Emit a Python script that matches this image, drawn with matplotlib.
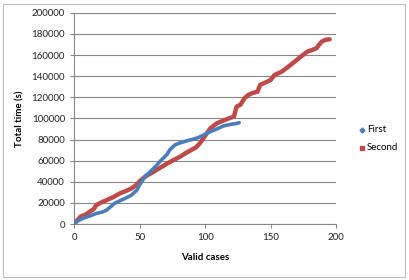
import matplotlib
matplotlib.use("Agg")
import matplotlib.pyplot as plt
from matplotlib.patches import Rectangle

plt.rcParams['font.family'] = ['Lato', 'DejaVu Sans']

# First series
first_x = [0, 3, 7, 12, 17, 22, 25, 28, 31, 35, 39, 44, 48, 50, 54, 58, 62,
           65, 68, 71, 73, 77, 80, 84, 88, 91, 95, 99, 103, 108, 114, 120, 124, 126]
first_y = [0, 3000, 5500, 7500, 10000, 11500, 13300, 16500, 19600, 22000, 24300,
           27500, 32200, 37000, 44800, 49500, 54300, 58500, 62300, 66000, 70200,
           74900, 76500, 78000, 79500, 80300, 82000, 84400, 87000, 89500, 92900,
           94500, 95200, 96000]

# Second series
second_x = [0, 2, 5, 9, 12, 15, 17, 21, 25, 30, 35, 40, 44, 48, 50, 55, 60, 65,
            70, 75, 81, 85, 90, 93, 96, 100, 104, 109, 115, 119, 122, 124, 127,
            130, 133, 136, 140, 142, 146, 150, 153, 158, 162, 166, 170, 174, 178,
            182, 185, 187, 189, 192, 195]
second_y = [0, 3000, 7000, 9000, 11700, 14000, 18000, 20500, 22700, 25500, 29000,
            31500, 33800, 37500, 40500, 45500, 49000, 52800, 56500, 60000, 63800,
            67000, 70500, 72500, 76500, 83500, 90700, 95400, 98500, 100500, 101700,
            111200, 113000, 119100, 122300, 124000, 125400, 131800, 134000, 136500,
            141200, 144000, 147600, 151500, 155500, 159500, 163300, 165000, 166500,
            170000, 172800, 174500, 175000]

x_ticks = [0, 50, 100, 150, 200]
y_ticks = list(range(0, 200001, 20000))

fig = plt.figure(figsize=(4.09, 2.80), dpi=100)
ax = fig.add_axes([0.181, 0.2, 0.641, 0.754])

blue = '#4A7EBB'
red = '#BE4B48'
grid_c = '#868686'

ax.plot(first_x, first_y, color=blue, lw=2.6, solid_capstyle='round', zorder=3)
ax.plot(second_x, second_y, color=red, lw=3.2, solid_capstyle='round', zorder=2)

ax.set_xlim(0, 200)
ax.set_ylim(0, 200000)
ax.set_xticks(x_ticks)
ax.set_yticks(y_ticks)
ax.yaxis.grid(True, color=grid_c, lw=0.8)
ax.set_axisbelow(True)
for s in ['top', 'right']:
    ax.spines[s].set_visible(False)
for s in ['left', 'bottom']:
    ax.spines[s].set_color(grid_c)
    ax.spines[s].set_linewidth(0.8)
ax.tick_params(colors=grid_c, labelcolor='#222222', labelsize=7, length=3, width=0.8)

ax.set_xlabel('Valid cases', fontsize=7, fontweight='bold', labelpad=8)
ax.set_ylabel('Total time (s)', fontsize=7, fontweight='bold', labelpad=5)

# legend
fig.lines.append(plt.Line2D([362 / 409], [1 - 130 / 280], marker='D', ms=2.5,
                            color=blue, ls='none', transform=fig.transFigure))
fig.lines.append(plt.Line2D([362 / 409], [1 - 148 / 280], marker='s', ms=3,
                            color=red, ls='none', transform=fig.transFigure))
fig.text(367 / 409, 1 - 130 / 280, 'First', fontsize=7, va='center')
fig.text(367 / 409, 1 - 148 / 280, 'Second', fontsize=7, va='center')

# chart border
fig.patches.append(Rectangle((3 / 409, 3 / 280), 402 / 409, 273 / 280,
                             transform=fig.transFigure, fill=False,
                             edgecolor='#BFBFBF', lw=0.8))

fig.savefig('out.png', dpi=100)
